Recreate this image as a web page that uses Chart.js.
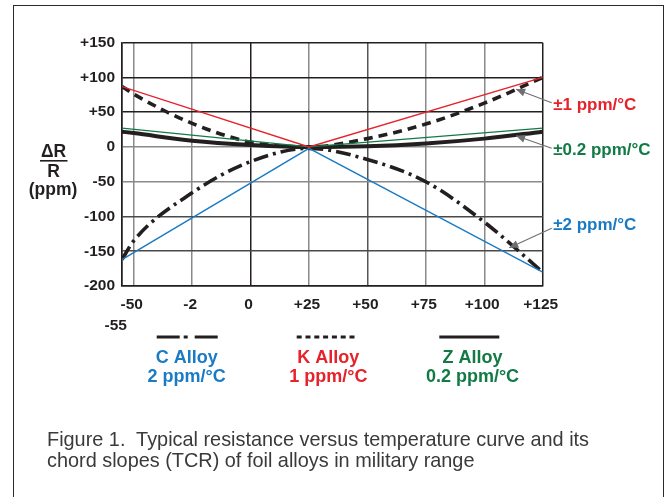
<!DOCTYPE html>
<html><head><meta charset="utf-8">
<script src="https://cdn.jsdelivr.net/npm/chart.js@4.4.0/dist/chart.umd.min.js"></script>
<style>
html,body{margin:0;padding:0;background:#fff;}
body{width:671px;height:497px;position:relative;overflow:hidden;}
#frame{position:absolute;left:12.5px;top:4.5px;width:649px;height:530px;border:1.5px solid #2b2b2b;}
#c{position:absolute;left:0;top:0;}
.cap{position:absolute;left:47px;font-family:"Liberation Sans",Arial,sans-serif;color:#3a3a3a;white-space:nowrap;line-height:1;}
</style></head>
<body>
<div id="frame"></div>
<canvas id="c" width="671" height="497"></canvas>
<div class="cap" id="cap1">Figure 1.&nbsp; Typical resistance versus temperature curve and its</div>
<div class="cap" id="cap2">chord slopes (TCR) of foil alloys in military range</div>
<script>
// ---- data ----
const temps  = [-55, -50, -25, 0, 25, 50, 75, 100, 125];
const cAlloy = [-162, -135, -66, -21, -2, -18, -50, -108, -180];
const kAlloy = [87, 76, 34, 7, 0, 12, 33, 63, 100];
const zAlloy = [22, 20, 9, 3, 0, 1, 5, 12, 22];

const chordTemps = [-55, 25, 125];
const cChord = [-162, -2, -180];   // ±2 ppm/°C
const kChord = [87, 0, 100];       // ±1 ppm/°C
const zChord = [27, 0, 27];        // ±0.2 ppm/°C

const xTickValues = [-55, -50, -25, 0, 25, 50, 75, 100, 125];
const xTickText   = ['-55', '-50', '-2', '0', '+25', '+50', '+75', '+100', '+125'];
const yTickValues = [-200, -150, -100, -50, 0, 50, 100, 150];
const yTickText   = ['-200', '-150', '-100', '-50', '0', '+50', '+100', '+150'];

const legendNames = ['C Alloy', 'K Alloy', 'Z Alloy'];
const legendTcr   = ['2 ppm/°C', '1 ppm/°C', '0.2 ppm/°C'];
const chordNotes  = ['±1 ppm/°C', '±0.2 ppm/°C', '±2 ppm/°C'];

// ---- styling ----
const RED = '#e6222a', GREEN = '#117a45', BLUE = '#1a7bc4', INK = '#231f20';
const FONT = '"Liberation Sans", Arial, Helvetica, sans-serif';
const pts = (xs, ys) => xs.map((x, i) => ({x, y: ys[i]}));

const darkGridY = [100, 50, 150, -200];
const midGridY = [-100, -150];
const darkGridX = [0, 125, -55];

const deco = {
  id: 'deco',
  afterDraw(chart) {
    const ctx = chart.ctx, xs = chart.scales.x, ys = chart.scales.y, ca = chart.chartArea;
    ctx.save();
    // y title
    ctx.fillStyle = INK;
    ctx.font = 'bold 17.5px ' + FONT;
    ctx.textAlign = 'center';
    ctx.textBaseline = 'alphabetic';
    ctx.fillText('ΔR', 53.5, 156.7);
    ctx.fillRect(40, 160, 27.5, 1.6);
    ctx.fillText('R', 53.5, 176.7);
    ctx.fillText('(ppm)', 53, 194.5);

    // chord annotations with arrows
    const notes = [
      {text: chordNotes[0], color: RED,   base: 109.5, tailY: 102.7, tip: [113.6, 83]},
      {text: chordNotes[1], color: GREEN, base: 154.5, tailY: 148.3, tip: [113.6, 16]},
      {text: chordNotes[2], color: BLUE,  base: 229.5, tailY: 228.3, tip: [110.7, -145]}
    ];
    ctx.font = 'bold 17px ' + FONT;
    ctx.textAlign = 'left';
    notes.forEach(n => {
      ctx.fillStyle = n.color;
      ctx.fillText(n.text, ca.right + 10.5, n.base);
      const tx = xs.getPixelForValue(n.tip[0]), ty = ys.getPixelForValue(n.tip[1]);
      const sx = ca.right + 9, sy = n.tailY;
      ctx.strokeStyle = '#6f6f6f'; ctx.fillStyle = '#6f6f6f'; ctx.lineWidth = 1.1;
      ctx.beginPath(); ctx.moveTo(sx, sy); ctx.lineTo(tx, ty); ctx.stroke();
      const a = Math.atan2(ty - sy, tx - sx), L = 9, W = 4;
      ctx.beginPath();
      ctx.moveTo(tx, ty);
      ctx.lineTo(tx - L * Math.cos(a) + W * Math.sin(a), ty - L * Math.sin(a) - W * Math.cos(a));
      ctx.lineTo(tx - L * Math.cos(a) - W * Math.sin(a), ty - L * Math.sin(a) + W * Math.cos(a));
      ctx.closePath(); ctx.fill();
    });

    // legend samples
    ctx.strokeStyle = INK; ctx.lineWidth = 3.2; ctx.lineCap = 'butt';
    const samples = [
      {x0: 156.7, x1: 218.3, dash: [23, 4, 4, 7]},
      {x0: 296.7, x1: 358.3, dash: [5, 3.8]},
      {x0: 439.3, x1: 499.3, dash: []}
    ];
    samples.forEach(s => {
      ctx.setLineDash(s.dash);
      ctx.beginPath(); ctx.moveTo(s.x0, 337); ctx.lineTo(s.x1, 337); ctx.stroke();
    });
    ctx.setLineDash([]);
    // legend text
    const lcol = [BLUE, RED, GREEN], lcx = [186.7, 328.3, 472.5];
    ctx.font = 'bold 18px ' + FONT;
    ctx.textAlign = 'center';
    legendNames.forEach((t, i) => {
      ctx.fillStyle = lcol[i];
      ctx.fillText(t, lcx[i], 362.7);
      ctx.fillText(legendTcr[i], lcx[i], 382.3);
    });
    ctx.restore();
  }
};

const baseLine = {pointRadius: 0, fill: false, tension: 0};
new Chart(document.getElementById('c'), {
  type: 'line',
  data: {
    datasets: [
      Object.assign({label: 'K chord', data: pts(chordTemps, kChord), borderColor: RED, borderWidth: 1.3, order: 1}, baseLine),
      Object.assign({label: 'Z chord', data: pts(chordTemps, zChord), borderColor: GREEN, borderWidth: 1.3, order: 1}, baseLine),
      Object.assign({label: 'C chord', data: pts(chordTemps, cChord), borderColor: BLUE, borderWidth: 1.3, order: 1}, baseLine),
      {label: 'C Alloy', data: pts(temps, cAlloy), borderColor: INK, borderWidth: 3.6, borderDash: [15, 5, 3, 5],
       pointRadius: 0, cubicInterpolationMode: 'monotone', fill: false, order: 2},
      {label: 'K Alloy', data: pts(temps, kAlloy), borderColor: INK, borderWidth: 3.6, borderDash: [9, 6],
       pointRadius: 0, cubicInterpolationMode: 'monotone', fill: false, order: 2},
      {label: 'Z Alloy', data: pts(temps, zAlloy), borderColor: INK, borderWidth: 4,
       pointRadius: 0, cubicInterpolationMode: 'monotone', fill: false, order: 2}
    ]
  },
  options: {
    responsive: false,
    animation: false,
    devicePixelRatio: 1,
    layout: {padding: {left: 0, top: 42.7, right: 671 - 542.7, bottom: 0}},
    plugins: {legend: {display: false}, tooltip: {enabled: false}},
    scales: {
      x: {
        type: 'linear', min: -55, max: 125,
        afterBuildTicks: s => { s.ticks = xTickValues.map(v => ({value: v})); },
        afterFit: s => { s.height = 497 - 286; },
        ticks: {
          autoSkip: false, maxRotation: 0, padding: 8, labelOffset: -2,
          color: INK, font: {family: FONT, size: 15.5, weight: 'bold', lineHeight: 1.35},
          callback: v => { const i = xTickValues.indexOf(v); const t = xTickText[i]; return v === -55 ? ['', t + '  '] : t; }
        },
        grid: {drawTicks: false, lineWidth: 1.5,
          color: c => darkGridX.includes(c.tick && c.tick.value) ? INK : (c.tick && c.tick.value === 50 ? '#555' : '#8a8a8a')},
        border: {display: true, color: INK, width: 1.5}
      },
      y: {
        type: 'linear', min: -200, max: 150,
        afterBuildTicks: s => { s.ticks = yTickValues.map(v => ({value: v})); },
        afterFit: s => { s.width = 122; },
        ticks: {
          padding: 7, color: INK, font: {family: FONT, size: 15.5, weight: 'bold'},
          callback: v => yTickText[yTickValues.indexOf(v)]
        },
        grid: {drawTicks: false, lineWidth: 1.5,
          color: c => { const v = c.tick && c.tick.value; return darkGridY.includes(v) ? INK : (midGridY.includes(v) ? '#4a4a4a' : '#8a8a8a'); }},
        border: {display: true, color: INK, width: 1.5}
      }
    }
  },
  plugins: [deco]
});

// caption sizing
(function () {
  const c1 = document.getElementById('cap1'), c2 = document.getElementById('cap2');
  const m = document.createElement('canvas').getContext('2d');
  m.font = '20px ' + FONT;
  const w = m.measureText(c1.textContent).width;
  const fs = 20 * 543 / w;
  [c1, c2].forEach(el => { el.style.fontSize = fs + 'px'; });
  c1.style.top = (446.7 - 0.8465 * fs) + 'px';
  c2.style.top = (468.3 - 0.8465 * fs) + 'px';
})();
</script>
</body></html>
